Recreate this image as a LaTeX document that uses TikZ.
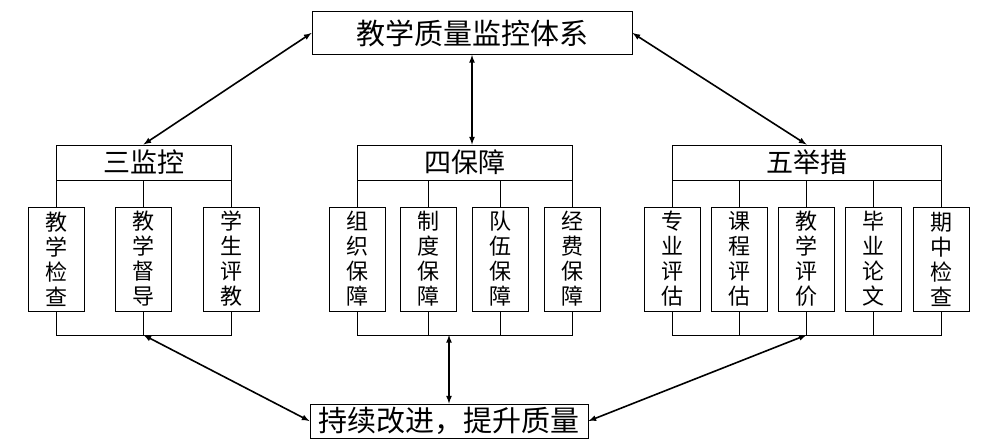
\documentclass[tikz,border=0pt]{standalone}
\usepackage{fontspec}
\newfontfamily\cjk{Noto Sans CJK SC}
\begin{document}
\begin{tikzpicture}[x=1pt,y=-1pt,
        topbox/.style={draw=black,line width=1pt,minimum height=43,inner sep=0pt,font=\cjk\fontsize{29}{32}\selectfont},
        groupbox/.style={draw=black,line width=1pt,minimum height=35,inner sep=0pt,font=\cjk\fontsize{27}{30}\selectfont},
        itembox/.style={draw=black,line width=0.8pt,minimum width=56,minimum height=104,inner sep=0pt,align=center,font=\cjk\fontsize{22}{25}\selectfont},
        link/.style={black,line width=0.8pt},
        dual/.style={<->,>=latex,black,line width=1.6pt}]
        \useasboundingbox (0,0) rectangle (990,440);
        \node [topbox,minimum width=320] (sys) at (472,33) {教学质量监控体系};
        \node [groupbox,minimum width=175] (jk) at (143.5,162.5) {三监控};
        \node [groupbox,minimum width=215] (bz) at (464.5,162.5) {四保障};
        \node [groupbox,minimum width=269] (js) at (806.5,162.5) {五举措};
        \node [topbox,minimum width=278,minimum height=34] (gj) at (449,421) {持续改进，提升质量};
        \node [itembox] (jk1) at (56,259) {教\\学\\检\\查};
        \node [itembox] (jk2) at (143.5,259) {教\\学\\督\\导};
        \node [itembox] (jk3) at (231,259) {学\\生\\评\\教};
        \node [itembox] (bz1) at (357,259) {组\\织\\保\\障};
        \node [itembox] (bz2) at (428.7,259) {制\\度\\保\\障};
        \node [itembox] (bz3) at (500.3,259) {队\\伍\\保\\障};
        \node [itembox] (bz4) at (572,259) {经\\费\\保\\障};
        \node [itembox] (js1) at (672,259) {专\\业\\评\\估};
        \node [itembox] (js2) at (739.25,259) {课\\程\\评\\估};
        \node [itembox] (js3) at (806.5,259) {教\\学\\评\\价};
        \node [itembox] (js4) at (873.75,259) {毕\\业\\论\\文};
        \node [itembox] (js5) at (941,259) {期\\中\\检\\查};
        \coordinate (jkbar) at (143.5,335);
        \coordinate (bzbar) at (464.5,335);
        \coordinate (jsbar) at (806.5,335);
        \draw [link] (jk1.north) -- (jk1.north |- jk.south);
        \draw [link] (jk2.north) -- (jk2.north |- jk.south);
        \draw [link] (jk3.north) -- (jk3.north |- jk.south);
        \draw [link] (bz1.north) -- (bz1.north |- bz.south);
        \draw [link] (bz2.north) -- (bz2.north |- bz.south);
        \draw [link] (bz3.north) -- (bz3.north |- bz.south);
        \draw [link] (bz4.north) -- (bz4.north |- bz.south);
        \draw [link] (js1.north) -- (js1.north |- js.south);
        \draw [link] (js2.north) -- (js2.north |- js.south);
        \draw [link] (js3.north) -- (js3.north |- js.south);
        \draw [link] (js4.north) -- (js4.north |- js.south);
        \draw [link] (js5.north) -- (js5.north |- js.south);
        \draw [link] (jk1.south) -- (jk1.south |- jkbar) -- (jk3.south |- jkbar) -- (jk3.south);
        \draw [link] (jk2.south) -- (jk2.south |- jkbar);
        \draw [link] (bz1.south) -- (bz1.south |- bzbar) -- (bz4.south |- bzbar) -- (bz4.south);
        \draw [link] (bz2.south) -- (bz2.south |- bzbar);
        \draw [link] (bz3.south) -- (bz3.south |- bzbar);
        \draw [link] (js1.south) -- (js1.south |- jsbar) -- (js5.south |- jsbar) -- (js5.south);
        \draw [link] (js2.south) -- (js2.south |- jsbar);
        \draw [link] (js3.south) -- (js3.south |- jsbar);
        \draw [link] (js4.south) -- (js4.south |- jsbar);
        \draw [dual] (sys.west) -- (jk.north);
        \draw [dual] (sys.south) -- (sys.south |- bz.north);
        \draw [dual] (sys.east) -- (js.north);
        \draw [dual] (jkbar) -- (gj.west);
        \draw [dual] (gj.north |- bzbar) -- (gj.north);
        \draw [dual] (jsbar) -- (gj.east);
\end{tikzpicture}
\end{document}
